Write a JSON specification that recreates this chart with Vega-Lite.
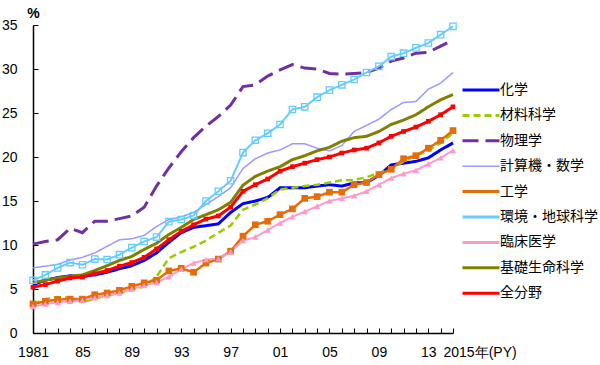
{
  "$schema": "https://vega.github.io/schema/vega-lite/v6.json",
  "width": 420,
  "height": 308,
  "autosize": {"type": "none"},
  "padding": {"left": 33, "top": 25, "right": 147, "bottom": 32},
  "background": "white",
  "config": {
    "view": {"stroke": null},
    "font": "Liberation Sans",
    "axis": {"domainColor": "#000000", "tickColor": "#000000", "labelColor": "#000000", "domainWidth": 1.5, "tickWidth": 1, "grid": false, "labelFontSize": 14, "labelFont": "Liberation Sans"}
  },
  "data": {"values": [
    {"year": 1981, "化学": 5.5, "材料科学": 3.3, "物理学": 10.1, "計算機・数学": 7.4, "工学": 3.3, "環境・地球科学": 6.0, "臨床医学": 3.0, "基礎生命科学": 5.7, "全分野": 5.2},
    {"year": 1982, "化学": 6.0, "材料科学": 3.85, "物理学": 10.4, "計算機・数学": 7.6, "工学": 3.6, "環境・地球科学": 6.6, "臨床医学": 3.3, "基礎生命科学": 6.0, "全分野": 5.5},
    {"year": 1983, "化学": 6.3, "材料科学": 4.1, "物理学": 10.6, "計算機・数学": 7.8, "工学": 3.8, "環境・地球科学": 7.4, "臨床医学": 3.5, "基礎生命科学": 6.25, "全分野": 5.9},
    {"year": 1984, "化学": 6.5, "材料科学": 4.0, "物理学": 11.9, "計算機・数学": 8.3, "工学": 3.85, "環境・地球科学": 8.0, "臨床医学": 3.6, "基礎生命科学": 6.45, "全分野": 6.25},
    {"year": 1985, "化学": 6.45, "材料科学": 3.5, "物理学": 11.4, "計算機・数学": 8.6, "工学": 3.85, "環境・地球科学": 7.75, "臨床医学": 3.7, "基礎生命科学": 6.6, "全分野": 6.35},
    {"year": 1986, "化学": 6.6, "材料科学": 3.9, "物理学": 12.7, "計算機・数学": 9.1, "工学": 4.35, "環境・地球科学": 8.4, "臨床医学": 4.0, "基礎生命科学": 7.1, "全分野": 6.75},
    {"year": 1987, "化学": 6.9, "材料科学": 4.25, "物理学": 12.7, "計算機・数学": 9.85, "工学": 4.55, "環境・地球科学": 8.35, "臨床医学": 4.25, "基礎生命科学": 7.65, "全分野": 7.1},
    {"year": 1988, "化学": 7.3, "材料科学": 4.55, "物理学": 13.0, "計算機・数学": 10.6, "工学": 4.85, "環境・地球科学": 8.9, "臨床医学": 4.55, "基礎生命科学": 8.25, "全分野": 7.6},
    {"year": 1989, "化学": 7.65, "材料科学": 4.85, "物理学": 13.3, "計算機・数学": 10.7, "工学": 5.3, "環境・地球科学": 9.7, "臨床医学": 5.0, "基礎生命科学": 8.7, "全分野": 8.0},
    {"year": 1990, "化学": 8.25, "材料科学": 5.3, "物理学": 14.3, "計算機・数学": 11.1, "工学": 5.7, "環境・地球科学": 10.4, "臨床医学": 5.4, "基礎生命科学": 9.5, "全分野": 8.6},
    {"year": 1991, "化学": 9.1, "材料科学": 6.4, "物理学": 16.7, "計算機・数学": 12.1, "工学": 6.0, "環境・地球科学": 10.9, "臨床医学": 5.75, "基礎生命科学": 10.2, "全分野": 9.55},
    {"year": 1992, "化学": 10.3, "材料科学": 8.5, "物理学": 18.75, "計算機・数学": 12.9, "工学": 7.05, "環境・地球科学": 12.65, "臨床医学": 6.4, "基礎生命科学": 11.2, "全分野": 10.6},
    {"year": 1993, "化学": 11.4, "材料科学": 9.2, "物理学": 20.6, "計算機・数学": 13.2, "工学": 7.35, "環境・地球科学": 12.9, "臨床医学": 7.25, "基礎生命科学": 12.0, "全分野": 11.55},
    {"year": 1994, "化学": 12.0, "材料科学": 9.8, "物理学": 22.2, "計算機・数学": 13.7, "工学": 6.9, "環境・地球科学": 13.35, "臨床医学": 7.95, "基礎生命科学": 12.9, "全分野": 12.3},
    {"year": 1995, "化学": 12.2, "材料科学": 10.5, "物理学": 23.5, "計算機・数学": 14.6, "工学": 7.95, "環境・地球科学": 15.0, "臨床医学": 8.35, "基礎生命科学": 13.45, "全分野": 12.95},
    {"year": 1996, "化学": 12.4, "材料科学": 11.4, "物理学": 24.6, "計算機・数学": 15.5, "工学": 8.4, "環境・地球科学": 16.1, "臨床医学": 8.45, "基礎生命科学": 14.0, "全分野": 13.3},
    {"year": 1997, "化学": 13.7, "材料科学": 12.2, "物理学": 25.9, "計算機・数学": 16.5, "工学": 9.3, "環境・地球科学": 17.3, "臨床医学": 9.25, "基礎生命科学": 14.85, "全分野": 14.3},
    {"year": 1998, "化学": 14.7, "材料科学": 14.0, "物理学": 28.0, "計算機・数学": 18.7, "工学": 11.0, "環境・地球科学": 20.5, "臨床医学": 10.5, "基礎生命科学": 16.8, "全分野": 16.1},
    {"year": 1999, "化学": 15.0, "材料科学": 14.6, "物理学": 28.2, "計算機・数学": 19.8, "工学": 12.3, "環境・地球科学": 21.9, "臨床医学": 10.9, "基礎生命科学": 17.8, "全分野": 16.85},
    {"year": 2000, "化学": 15.4, "材料科学": 15.3, "物理学": 29.2, "計算機・数学": 20.45, "工学": 12.7, "環境・地球科学": 22.7, "臨床医学": 11.7, "基礎生命科学": 18.4, "全分野": 17.5},
    {"year": 2001, "化学": 16.5, "材料科学": 16.3, "物理学": 29.9, "計算機・数学": 20.8, "工学": 13.45, "環境・地球科学": 23.7, "臨床医学": 12.5, "基礎生命科学": 18.9, "全分野": 18.4},
    {"year": 2002, "化学": 16.5, "材料科学": 16.5, "物理学": 30.5, "計算機・数学": 21.5, "工学": 14.1, "環境・地球科学": 25.4, "臨床医学": 13.2, "基礎生命科学": 19.7, "全分野": 18.9},
    {"year": 2003, "化学": 16.5, "材料科学": 16.7, "物理学": 30.1, "計算機・数学": 21.5, "工学": 15.3, "環境・地球科学": 25.7, "臨床医学": 13.8, "基礎生命科学": 20.15, "全分野": 19.3},
    {"year": 2004, "化学": 16.7, "材料科学": 16.85, "物理学": 30.0, "計算機・数学": 21.0, "工学": 15.5, "環境・地球科学": 26.8, "臨床医学": 14.4, "基礎生命科学": 20.7, "全分野": 19.7},
    {"year": 2005, "化学": 16.85, "材料科学": 17.1, "物理学": 29.5, "計算機・数学": 20.7, "工学": 16.0, "環境・地球科学": 27.6, "臨床医学": 15.0, "基礎生命科学": 21.1, "全分野": 20.0},
    {"year": 2006, "化学": 16.7, "材料科学": 17.35, "物理学": 29.4, "計算機・数学": 21.3, "工学": 16.0, "環境・地球科学": 28.2, "臨床医学": 15.3, "基礎生命科学": 21.8, "全分野": 20.45},
    {"year": 2007, "化学": 17.05, "材料科学": 17.4, "物理学": 29.5, "計算機・数学": 22.9, "工学": 16.85, "環境・地球科学": 28.8, "臨床医学": 15.6, "基礎生命科学": 22.2, "全分野": 20.8},
    {"year": 2008, "化学": 17.1, "材料科学": 17.7, "物理学": 29.6, "計算機・数学": 23.6, "工学": 17.1, "環境・地球科学": 29.6, "臨床医学": 16.1, "基礎生命科学": 22.35, "全分野": 21.0},
    {"year": 2009, "化学": 17.9, "材料科学": 18.2, "物理学": 30.1, "計算機・数学": 24.3, "工学": 18.0, "環境・地球科学": 30.3, "臨床医学": 16.85, "基礎生命科学": 22.9, "全分野": 21.6},
    {"year": 2010, "化学": 19.1, "材料科学": 18.6, "物理学": 30.9, "計算機・数学": 25.4, "工学": 18.6, "環境・地球科学": 31.4, "臨床医学": 17.6, "基礎生命科学": 23.7, "全分野": 22.35},
    {"year": 2011, "化学": 19.3, "材料科学": 19.5, "物理学": 31.25, "計算機・数学": 26.2, "工学": 19.8, "環境・地球科学": 31.8, "臨床医学": 18.1, "基礎生命科学": 24.2, "全分野": 22.9},
    {"year": 2012, "化学": 19.5, "材料科学": 20.15, "物理学": 31.8, "計算機・数学": 26.3, "工学": 20.15, "環境・地球科学": 32.4, "臨床医学": 18.5, "基礎生命科学": 24.8, "全分野": 23.4},
    {"year": 2013, "化学": 19.9, "材料科学": 20.7, "物理学": 31.9, "計算機・数学": 27.7, "工学": 21.0, "環境・地球科学": 32.95, "臨床医学": 19.2, "基礎生命科学": 25.7, "全分野": 24.05},
    {"year": 2014, "化学": 20.8, "材料科学": 21.6, "物理学": 32.6, "計算機・数学": 28.4, "工学": 21.9, "環境・地球科学": 33.9, "臨床医学": 19.9, "基礎生命科学": 26.5, "全分野": 24.8},
    {"year": 2015, "化学": 21.6, "材料科学": 22.7, "物理学": 33.3, "計算機・数学": 29.6, "工学": 23.0, "環境・地球科学": 34.85, "臨床医学": 20.75, "基礎生命科学": 27.1, "全分野": 25.7}
  ]},
  "transform": [
    {"fold": ["化学", "材料科学", "物理学", "計算機・数学", "工学", "環境・地球科学", "臨床医学", "基礎生命科学", "全分野"], "as": ["field", "v"]}
  ],
  "encoding": {
    "x": {
      "field": "year", "type": "quantitative",
      "scale": {"domain": [1981, 2015], "nice": false, "zero": false},
      "axis": {
        "title": null,
        "values": [1981,1982,1983,1984,1985,1986,1987,1988,1989,1990,1991,1992,1993,1994,1995,1996,1997,1998,1999,2000,2001,2002,2003,2004,2005,2006,2007,2008,2009,2010,2011,2012,2013,2014,2015],
        "labelExpr": "datum.value === 1981 ? '1981' : (datum.value === 2015 ? '2015年(PY)' : ((datum.value - 1981) % 4 === 0 ? substring(toString(datum.value), 2, 4) : ''))",
        "labelOverlap": false,
        "labelFlush": false,
        "labelBound": false,
        "tickSize": -5,
        "labelPadding": 17,
        "labelAlign": {"condition": {"test": "datum.value === 2015", "value": "left"}, "value": "center"},
        "labelOffset": {"condition": {"test": "datum.value === 2015", "value": -10}, "value": 0}
      }
    },
    "y": {
      "field": "v", "type": "quantitative",
      "scale": {"domain": [0, 35], "nice": false},
      "axis": {
        "values": [0, 5, 10, 15, 20, 25, 30, 35],
        "title": "%",
        "titleAngle": 0,
        "titleAlign": "center",
        "titleBaseline": "bottom",
        "titleX": 0,
        "titleY": -5,
        "titleFontSize": 14,
        "titleFontWeight": "bold",
        "titleFont": "Liberation Sans",
        "tickSize": -5,
        "labelPadding": 21
      }
    }
  },
  "layer": [
    {
      "mark": {"type": "line", "strokeCap": "butt"},
      "encoding": {
        "color": {
          "field": "field", "type": "nominal",
          "scale": {
            "domain": ["化学", "材料科学", "物理学", "計算機・数学", "工学", "環境・地球科学", "臨床医学", "基礎生命科学", "全分野"],
            "range": ["#0000FF", "#99CC00", "#7030A0", "#9999FF", "#E46C0A", "#66CCFF", "#FF99CC", "#808000", "#FF0000"]
          },
          "legend": {
            "title": null,
            "orient": "none",
            "legendX": 441,
            "legendY": 58,
            "symbolType": "stroke",
            "symbolSize": 1369,
            "symbolStrokeWidth": 3,
            "labelFont": "Noto Sans CJK JP",
            "labelFontSize": 14,
            "labelColor": "#000000",
            "labelOffset": 12,
            "rowPadding": 11.4,
            "encode": {"symbols": {"update": {"strokeWidth": {"signal": "datum.label === '計算機・数学' ? 1.5 : 3"}}}}
          }
        },
        "strokeDash": {
          "field": "field", "type": "nominal",
          "scale": {
            "domain": ["化学", "材料科学", "物理学", "計算機・数学", "工学", "環境・地球科学", "臨床医学", "基礎生命科学", "全分野"],
            "range": [[1, 0], [7, 4], [16, 7], [1, 0], [1, 0], [1, 0], [1, 0], [1, 0], [1, 0]]
          },
          "legend": null
        },
        "strokeWidth": {
          "condition": [
            {"test": "datum.field === '計算機・数学'", "value": 1.5},
            {"test": "datum.field === '環境・地球科学' || datum.field === '臨床医学'", "value": 2},
            {"test": "datum.field === '工学' || datum.field === '材料科学'", "value": 2.5}
          ],
          "value": 3
        }
      }
    },
    {
      "transform": [{"filter": "datum.field === '工学'"}],
      "mark": {"type": "point", "shape": "square", "filled": true, "color": "#E46C0A", "size": 45, "opacity": 1}
    },
    {
      "transform": [{"filter": "datum.field === '環境・地球科学'"}],
      "mark": {"type": "point", "shape": "square", "filled": false, "color": "#66CCFF", "size": 40, "strokeWidth": 1.3, "opacity": 1}
    },
    {
      "transform": [{"filter": "datum.field === '臨床医学'"}],
      "mark": {"type": "point", "shape": "triangle-up", "filled": true, "color": "#FF99CC", "size": 40, "opacity": 1}
    },
    {
      "transform": [{"filter": "datum.field === '全分野'"}],
      "mark": {"type": "point", "shape": "square", "filled": true, "color": "#FF0000", "size": 22, "opacity": 1}
    }
  ]
}
